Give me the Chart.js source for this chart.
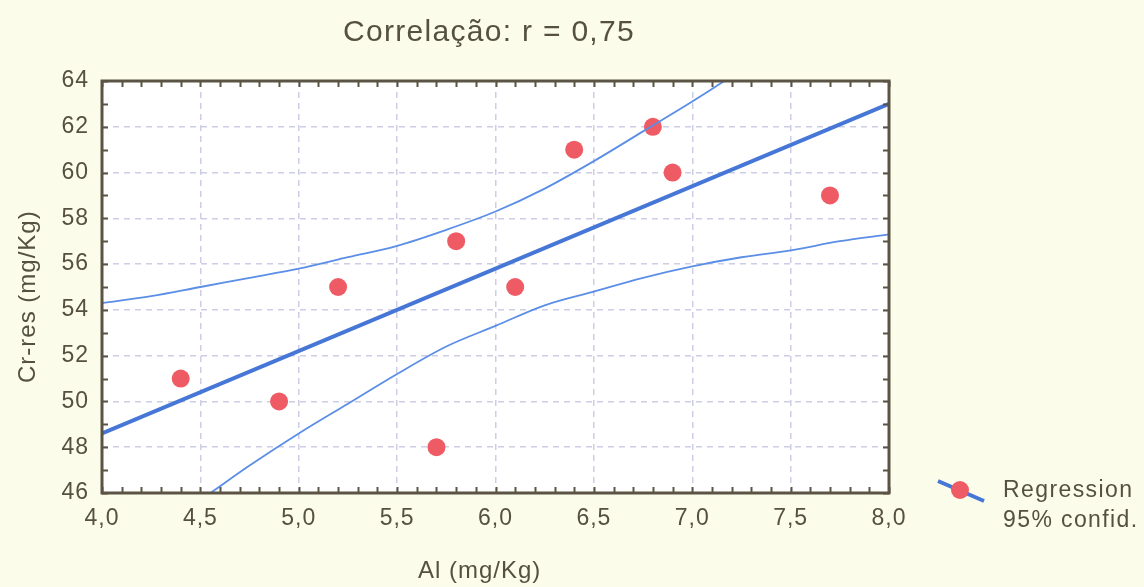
<!DOCTYPE html>
<html>
<head>
<meta charset="utf-8">
<script src="https://cdn.jsdelivr.net/npm/chart.js@4.4.0/dist/chart.umd.min.js"></script>
<style>
  html, body { margin: 0; padding: 0; background: #fcfcea; }
</style>
</head>
<body>
<canvas id="corr" width="1144" height="587"></canvas>
<script>
// Al vs Cr-res samples (mg/Kg)
const alValues = [4.4, 4.9, 5.2, 5.7, 5.8, 6.1, 6.4, 6.8, 6.9, 7.7];
const crValues = [51, 50, 55, 48, 57, 55, 61, 62, 60, 59];

// regression line end points
const fitX = [4.0, 8.0];
const fitY = [48.6, 63.0];

// 95% confidence limits
const bandX     = [4.0, 4.25, 4.5, 4.75, 5.0, 5.25, 5.5, 5.75, 6.0, 6.25, 6.5, 6.75, 7.0, 7.25, 7.5, 7.75, 8.0];
const bandUpper = [54.3, 54.6, 55.0, 55.4, 55.8, 56.3, 56.8, 57.5, 58.3, 59.3, 60.5, 61.8, 63.1, 64.5, 66.0, 67.5, 69.0];
const bandLower = [42.8, 44.3, 45.7, 47.2, 48.6, 49.9, 51.2, 52.4, 53.3, 54.2, 54.8, 55.4, 55.9, 56.3, 56.6, 57.0, 57.3];

const xTicks = [4.0, 4.5, 5.0, 5.5, 6.0, 6.5, 7.0, 7.5, 8.0];
const yTicks = [46, 48, 50, 52, 54, 56, 58, 60, 62, 64];

const chartTitle = 'Correlação: r = 0,75';
const xTitle = 'Al (mg/Kg)';
const yTitle = 'Cr-res (mg/Kg)';
const legendLabels = ['Regression', '95% confid.'];

const TEXT = '#55503f';
const FRAME = '#5b5445';
const DOT = '#ef5b65';
const FIT = '#4677d6';
const BAND = '#5b8ee6';
const FONT = '"Liberation Sans", Arial, sans-serif';

const pairs = (xs, ys) => xs.map((x, i) => ({ x: x, y: ys[i] }));
const comma = v => Number(v).toFixed(1).replace('.', ',');

// white plot area, frame, inner minor ticks, titles and legend
const decorations = {
    id: 'decorations',
    beforeDraw(chart) {
        const ctx = chart.ctx;
        const a = chart.chartArea;
        ctx.letterSpacing = '1px';
        ctx.save();
        ctx.fillStyle = '#ffffff';
        ctx.fillRect(a.left, a.top, a.right - a.left, a.bottom - a.top);
        ctx.restore();
    },
    afterDraw(chart) {
        const ctx = chart.ctx;
        const a = chart.chartArea;
        const xs = chart.scales.x, ys = chart.scales.y;
        ctx.save();
        ctx.strokeStyle = FRAME;
        ctx.lineWidth = 2;
        ctx.beginPath();
        for (let i = 0; i <= 40; i++) {
            const px = Math.round(xs.getPixelForValue(4 + i / 10)) + 0.5;
            ctx.moveTo(px, a.bottom); ctx.lineTo(px, a.bottom - 6);
            ctx.moveTo(px, a.top); ctx.lineTo(px, a.top + 6);
        }
        for (let v = 46; v <= 64; v++) {
            const py = Math.round(ys.getPixelForValue(v)) + 0.5;
            ctx.moveTo(a.left, py); ctx.lineTo(a.left + 6, py);
            ctx.moveTo(a.right, py); ctx.lineTo(a.right - 6, py);
        }
        ctx.stroke();
        ctx.lineWidth = 3;
        ctx.strokeRect(a.left, a.top, a.right - a.left, a.bottom - a.top);

        ctx.fillStyle = TEXT;
        ctx.textBaseline = 'alphabetic';
        ctx.textAlign = 'left';
        ctx.letterSpacing = '1.3px';
        ctx.font = '30px ' + FONT;
        ctx.fillText(chartTitle, 343, 41);

        ctx.letterSpacing = '1px';
        ctx.font = '24px ' + FONT;
        ctx.fillText(xTitle, 418, 578);
        ctx.save();
        ctx.translate(35, 383);
        ctx.rotate(-Math.PI / 2);
        ctx.fillText(yTitle, 0, 0);
        ctx.restore();

        // legend
        ctx.strokeStyle = FIT;
        ctx.lineWidth = 4;
        ctx.beginPath();
        ctx.moveTo(938, 481);
        ctx.lineTo(984, 501);
        ctx.stroke();
        ctx.fillStyle = DOT;
        ctx.beginPath();
        ctx.arc(960, 490, 9, 0, Math.PI * 2);
        ctx.fill();
        ctx.fillStyle = TEXT;
        ctx.letterSpacing = '1.4px';
        ctx.font = '23px ' + FONT;
        ctx.textBaseline = 'middle';
        ctx.fillText(legendLabels[0], 1003, 491);
        ctx.fillText(legendLabels[1], 1003, 521);
        ctx.restore();
    }
};

new Chart(document.getElementById('corr'), {
    type: 'scatter',
    data: {
        datasets: [
            {
                data: pairs(fitX, fitY),
                showLine: true,
                borderColor: FIT,
                borderWidth: 4,
                pointRadius: 0,
                order: 1
            },
            {
                data: pairs(bandX, bandUpper),
                showLine: true,
                borderColor: BAND,
                borderWidth: 1.8,
                pointRadius: 0,
                cubicInterpolationMode: 'monotone',
                order: 1
            },
            {
                data: pairs(bandX, bandLower),
                showLine: true,
                borderColor: BAND,
                borderWidth: 1.8,
                pointRadius: 0,
                cubicInterpolationMode: 'monotone',
                order: 1
            },
            {
                data: pairs(alValues, crValues),
                backgroundColor: DOT,
                borderWidth: 0,
                pointRadius: 9,
                order: 2
            }
        ]
    },
    options: {
        responsive: false,
        animation: false,
        layout: { padding: { left: 0, right: 255, top: 81, bottom: 0 } },
        plugins: {
            legend: { display: false },
            tooltip: { enabled: false }
        },
        scales: {
            x: {
                type: 'linear',
                min: 4,
                max: 8,
                afterBuildTicks: s => { s.ticks = xTicks.map(v => ({ value: v })); },
                afterFit: s => { s.height = 94; },
                ticks: {
                    callback: v => comma(v),
                    color: TEXT,
                    padding: 12,
                    maxRotation: 0,
                    font: { family: FONT, size: 23 }
                },
                grid: { color: '#cdcde6', lineWidth: 1.5, drawTicks: false },
                border: { display: false, dash: [6, 5] }
            },
            y: {
                min: 46,
                max: 64,
                afterBuildTicks: s => { s.ticks = yTicks.map(v => ({ value: v })); },
                afterFit: s => { s.width = 102; },
                ticks: {
                    color: TEXT,
                    padding: 13,
                    font: { family: FONT, size: 23 }
                },
                grid: { color: '#cdcde6', lineWidth: 1.5, drawTicks: false },
                border: { display: false, dash: [6, 5] }
            }
        }
    },
    plugins: [decorations]
});
</script>
</body>
</html>
